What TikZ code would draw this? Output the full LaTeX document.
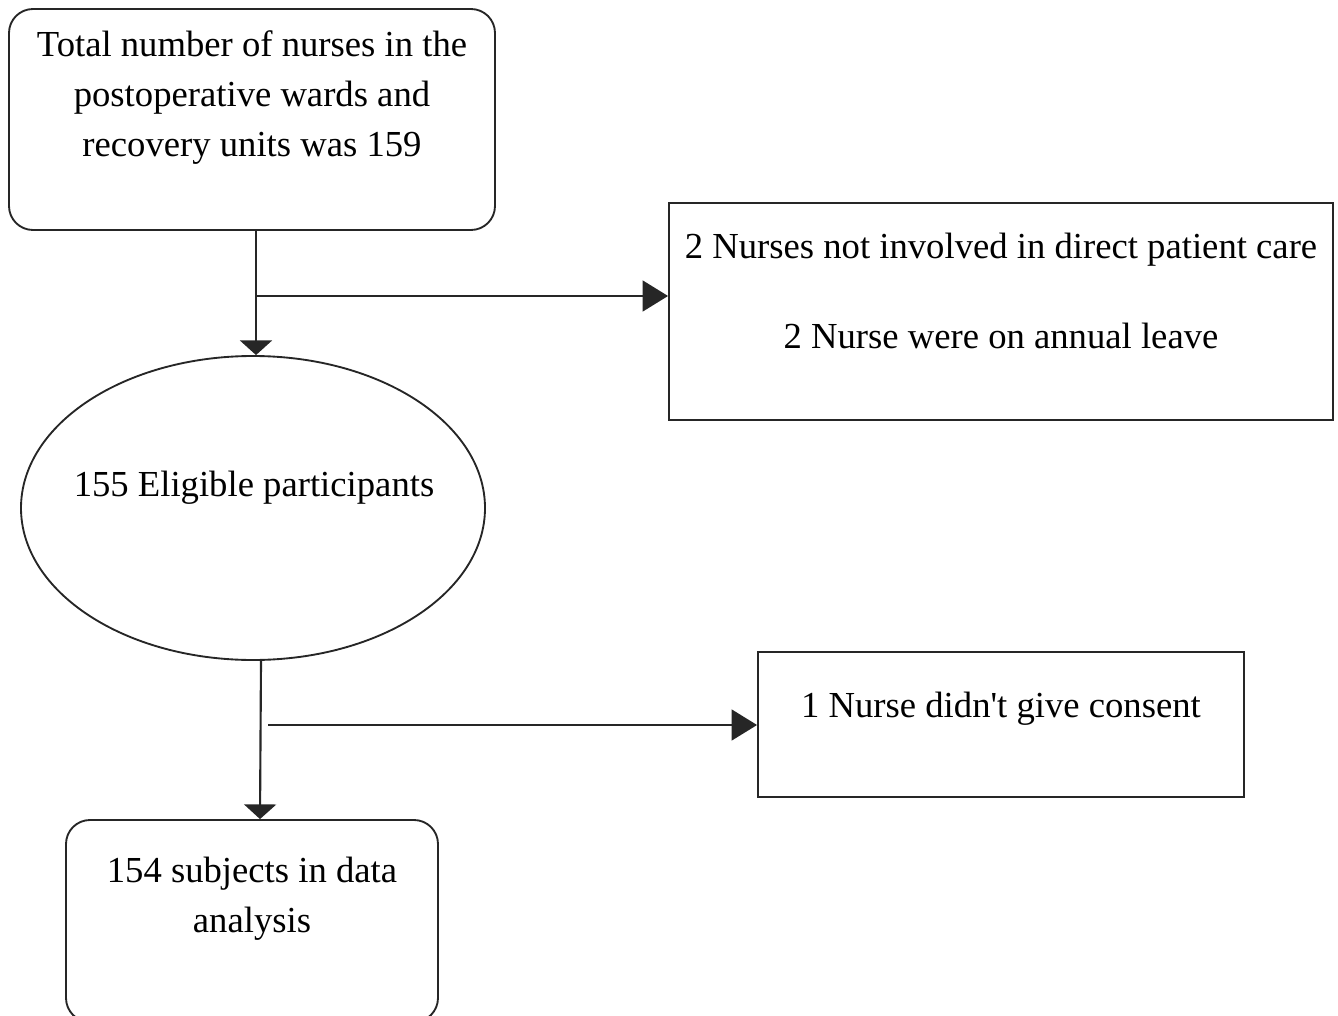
\documentclass[tikz,border=0pt]{standalone}
\usepackage{fontspec}
\setmainfont{Liberation Serif}
\usetikzlibrary{arrows.meta,shapes.geometric}
\begin{document}
\begin{tikzpicture}[x=0.75pt,y=-0.75pt,
  boxline/.style={draw=black!85, line width=1.4pt},
  rbox/.style={boxline, rounded corners=18pt, inner sep=0pt},
  sbox/.style={boxline, inner sep=0pt},
  lbl/.style={anchor=base, align=center, inner sep=0pt, font=\fontsize{27.5}{37.5}\selectfont},
  conn/.style={draw=black!85, line width=1.6pt},
  arrV/.style={conn, -{Triangle[length=11pt,width=24pt]}},
  arrH/.style={conn, -{Triangle[length=19pt,width=23pt]}}]
\useasboundingbox (0,0) rectangle (1338,1016);
% boxes
\node[rbox, minimum width=364.5pt, minimum height=165.75pt] (box1) at (252,119.5) {};
\node[sbox, minimum width=498pt, minimum height=162.75pt] (box2) at (1001,311.5) {};
\node[boxline, ellipse, inner sep=0pt, minimum width=348pt, minimum height=228pt] (el) at (253,508) {};
\node[sbox, minimum width=364.5pt, minimum height=108.75pt] (box4) at (1001,724.5) {};
\node[rbox, minimum width=279pt, minimum height=151.5pt] (box3) at (252,921) {};
% texts (anchor=base is the baseline of the last line)
\node[lbl] (t1) at (252,157) {Total number of nurses in the\\postoperative wards and\\recovery units was 159};
\node[lbl] (t2) at (1001,348) {2 Nurses not involved in direct patient care\\[30pt]2 Nurse were on annual leave};
\node[lbl] (t3) at (254,496) {155 Eligible participants};
\node[lbl] (t4) at (1001,717) {1 Nurse didn\textquotesingle t give consent};
\node[lbl] (t5) at (252,932) {154 subjects in data\\analysis};
% connectors
\coordinate (j1) at (256,296);
\coordinate (j2) at (268,725);
\draw[arrV] ([xshift=3pt]box1.south) -- ([xshift=3pt]box1.south |- el.north);
\draw[arrH] (j1) -- (j1 -| box2.west);
\draw[arrV] ([xshift=6pt]el.south) -- ([xshift=6pt]box3.north);
\draw[arrH] (j2) -- (j2 -| box4.west);
\end{tikzpicture}
\end{document}
